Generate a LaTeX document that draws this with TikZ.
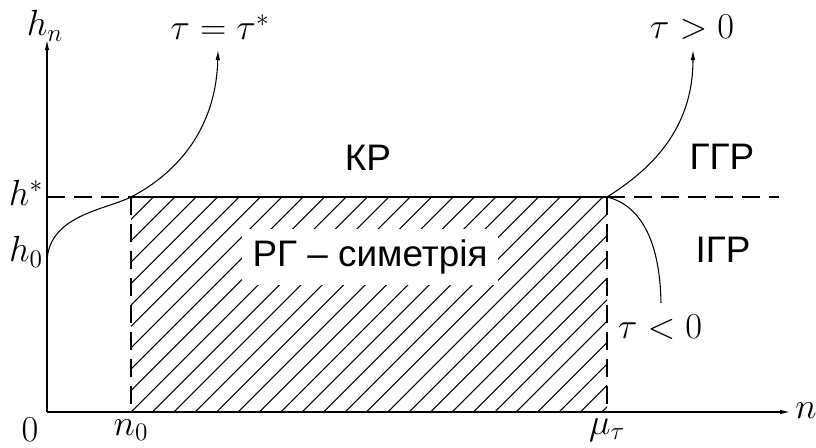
\documentclass[tikz,border=0pt]{standalone}
\usepackage{fontspec}
\setsansfont{Liberation Sans}
\usetikzlibrary{arrows.meta}

\begin{document}
\begin{tikzpicture}[x=0.02cm, y=-0.02cm, line width=0.6pt,
  >={Latex[length=0.2cm, width=0.09cm]},
  mth/.style={font=\fontsize{20}{24}\selectfont},
  reg/.style={font=\sffamily\fontsize{21}{25}\selectfont},
  dsh/.style={dash pattern=on 0.36cm off 0.18cm}]

  \useasboundingbox (0,0) rectangle (816,447);

  % --- 1. hatched region n_0 < n < mu_tau ---
  \begin{scope}
    \clip (131,197) rectangle (607,412);
    \foreach \k in {-11,...,23}
      \draw (131+21.4*\k, 412) -- ++(220,-220);
  \end{scope}
  \node[reg, fill=white, inner xsep=0.22cm, inner ysep=0.22cm] (sym) at (370,257) {РГ -- симетрія};

  % --- 2. axes ---
  \coordinate (O) at (47,412);
  \coordinate (xtip) at (790,412);
  \coordinate (ytip) at (47,40);
  \draw[->] (O) -- (xtip);
  \draw[->] (O) -- (ytip);

  % --- 3. level h^* and the borders n_0, mu_tau ---
  \coordinate (hs) at (47,197);
  \coordinate (A) at (131,197);
  \coordinate (B) at (607,197);
  \coordinate (hend) at (779,197);
  \coordinate (An) at (131,412);
  \coordinate (Bn) at (607,412);
  \draw[dsh] (hs) -- (A);
  \draw (A) -- (B);
  \draw[dsh] (B) -- (hend);
  \draw[dsh] (A) -- (An);
  \draw[dsh] (B) -- (Bn);

  % --- 4. flows h_n ---
  \coordinate (h0) at (47,260);
  \coordinate (tipL) at (218,50);
  \coordinate (tipR) at (693,50);
  \coordinate (endR) at (661,303);
  \draw[->] (h0) .. controls (50,215) and (105,210) .. (A)
    .. controls (170,177) and (216,135) .. (tipL);
  \draw[->] (B) .. controls (650,170) and (693,130) .. (tipR);
  \draw (B) .. controls (640,205) and (660,240) .. (endR);

  % --- 5. labels ---
  \node[mth] (lhn) at (45,26) {$h_n$};
  \node[mth] (lstar) at (26,193) {$h^*$};
  \node[mth] (lh0) at (26,252) {$h_0$};
  \node[mth] (l0) at (30,430) {$0$};
  \node[mth] (ln0) at (131,430) {$n_0$};
  \node[mth] (lmu) at (607,430) {$\mu_\tau$};
  \node[mth] (ln) at (806,411) {$n$};
  \node[mth] (teq) at (220,27) {$\tau = \tau^*$};
  \node[mth] (tpos) at (692,27) {$\tau > 0$};
  \node[mth] (tneg) at (660,327) {$\tau < 0$};
  \node[reg] (kr) at (368,158) {КР};
  \node[reg] (ggr) at (722,157) {ГГР};
  \node[reg] (igr) at (723,250) {ІГР};

\end{tikzpicture}
\end{document}
